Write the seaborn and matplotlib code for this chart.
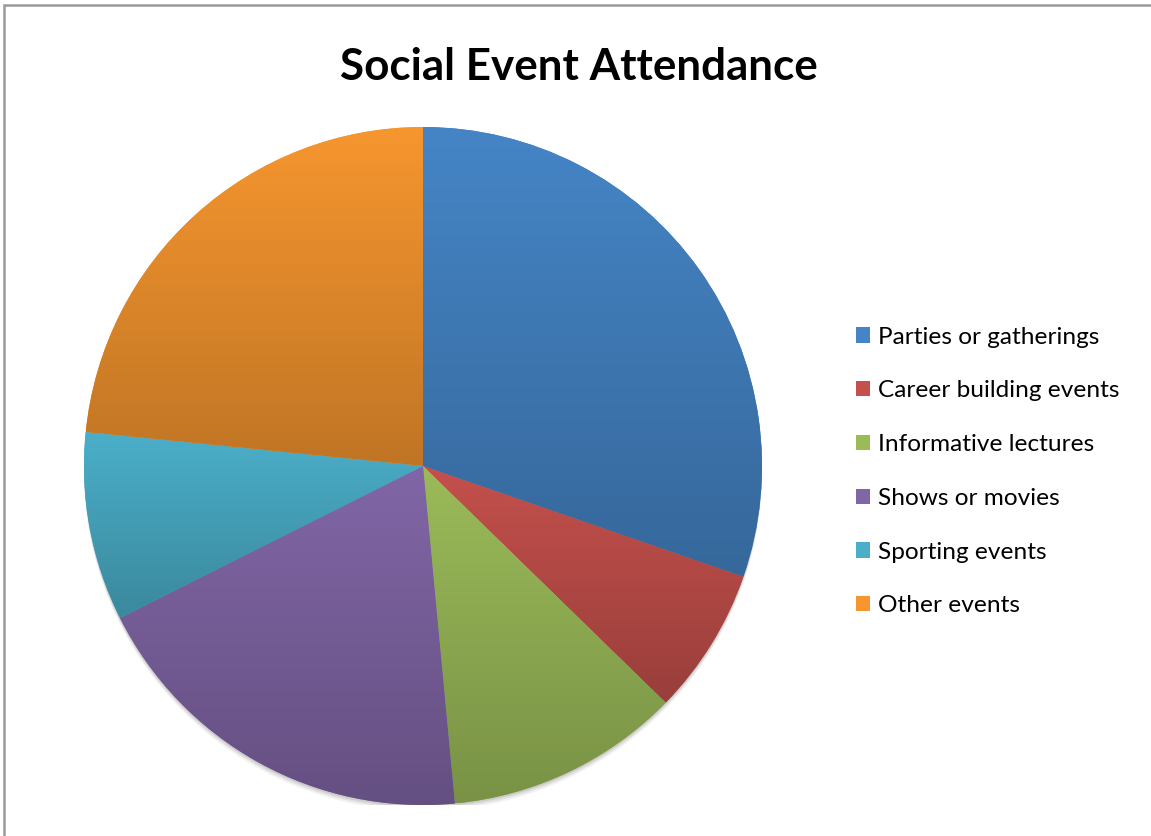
import matplotlib
matplotlib.use("Agg")
import matplotlib.pyplot as plt
import matplotlib.patches as mpatches
import matplotlib.colors as mcolors
import seaborn as sns
import numpy as np

labels = ["Parties or gatherings", "Career building events", "Informative lectures",
          "Shows or movies", "Sporting events", "Other events"]
values = [30.3, 7.0, 11.2, 19.1, 9.0, 23.4]
colors = ["#4585C6", "#C4504C", "#9BBB59", "#8166A6", "#4BAFC9", "#F6962F"]

sns.set_style("white")
plt.rcParams['font.family'] = ['Lato', 'DejaVu Sans']
plt.rcParams['text.color'] = 'black'

W, H = 1151, 836
fig = plt.figure(figsize=(W / 100, H / 100), dpi=100)

# outer chart border (only top and left visible)
fig.add_artist(mpatches.Rectangle((3.5 / W, -0.1), 1.2, 1 - 5.5 / H + 0.1,
                                  transform=fig.transFigure, fill=False,
                                  edgecolor="#9a9a9a", linewidth=1.8))

cx, cy, r = 423, 466, 339
ax = fig.add_axes([(cx - r) / W, (H - cy - r) / H, 2 * r / W, 2 * r / H])

# soft shadow under the pie
for off, a in [(6, 0.05), (4, 0.07), (2, 0.09)]:
    ax.add_patch(mpatches.Circle((0, -off / r), 1.0, color="#000000", alpha=a,
                                 linewidth=0, zorder=0))

wedges, _ = ax.pie(values, colors=colors, startangle=90, counterclock=False,
                   radius=1, wedgeprops=dict(linewidth=0))

# vertical gradient for each slice, lighter on top, darker at bottom
for w, c in zip(wedges, colors):
    base = np.array(mcolors.to_rgb(c))
    top = base
    bot = base * 0.78
    t = np.linspace(0, 1, 256)[:, None]
    grad = top[None, :] * (1 - t) + bot[None, :] * t
    img = grad[:, None, :]
    ext = w.get_path().get_extents()
    im = ax.imshow(img, extent=[ext.x0, ext.x1, ext.y0, ext.y1], origin="upper",
                   aspect="auto", zorder=2, interpolation="bilinear")
    im.set_clip_path(w)

ax.set_xlim(-1, 1)
ax.set_ylim(-1, 1)
ax.set_aspect("equal")
ax.axis("off")

fig.text(579 / W, 1 - 67 / H, "Social Event Attendance", ha="center", va="center",
         fontsize=31.7, fontweight="bold", color="#000000")

handles = [mpatches.Patch(facecolor=c, edgecolor="none") for c in colors]
fig.legend(handles, labels, loc="center left", bbox_to_anchor=(856 / W, 1 - 471.5 / H),
           frameon=False, fontsize=17.6, handlelength=0.58, handleheight=0.58,
           handletextpad=0.3, labelspacing=1.34, borderaxespad=0, borderpad=0,
           labelcolor="black")

fig.savefig("out.png", dpi=100)
